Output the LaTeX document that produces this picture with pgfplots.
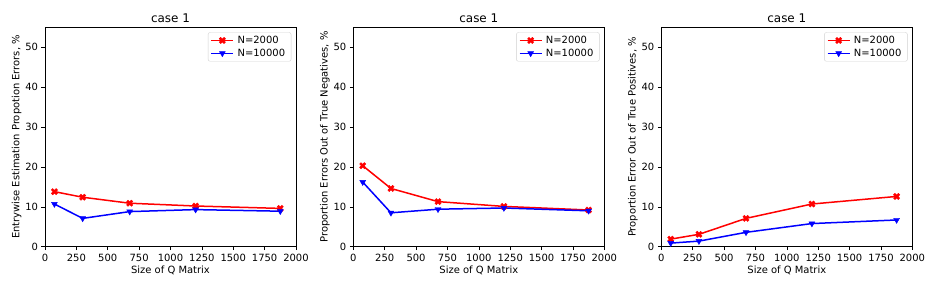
\documentclass[border=0pt]{standalone}
\usepackage{pgfplots}
\pgfplotsset{compat=1.18}
\usepackage{fontspec}
\setmainfont{DejaVu Sans}

% filled "X" marker like matplotlib's
\pgfdeclareplotmark{Xf}{%
  \pgftransformrotate{45}%
  \pgfpathmoveto{\pgfpoint{0.3\pgfplotmarksize}{0.3\pgfplotmarksize}}%
  \pgfpathlineto{\pgfpoint{0.3\pgfplotmarksize}{\pgfplotmarksize}}%
  \pgfpathlineto{\pgfpoint{-0.3\pgfplotmarksize}{\pgfplotmarksize}}%
  \pgfpathlineto{\pgfpoint{-0.3\pgfplotmarksize}{0.3\pgfplotmarksize}}%
  \pgfpathlineto{\pgfpoint{-\pgfplotmarksize}{0.3\pgfplotmarksize}}%
  \pgfpathlineto{\pgfpoint{-\pgfplotmarksize}{-0.3\pgfplotmarksize}}%
  \pgfpathlineto{\pgfpoint{-0.3\pgfplotmarksize}{-0.3\pgfplotmarksize}}%
  \pgfpathlineto{\pgfpoint{-0.3\pgfplotmarksize}{-\pgfplotmarksize}}%
  \pgfpathlineto{\pgfpoint{0.3\pgfplotmarksize}{-\pgfplotmarksize}}%
  \pgfpathlineto{\pgfpoint{0.3\pgfplotmarksize}{-0.3\pgfplotmarksize}}%
  \pgfpathlineto{\pgfpoint{\pgfplotmarksize}{-0.3\pgfplotmarksize}}%
  \pgfpathlineto{\pgfpoint{\pgfplotmarksize}{0.3\pgfplotmarksize}}%
  \pgfpathclose
  \pgfusepathqfillstroke
}

\pgfplotsset{
  panel/.style={
    scale only axis, width=251bp, height=219.4bp,
    anchor=south west,
    xmin=0, xmax=2000, ymin=0, ymax=55,
    xtick={0,250,...,2000}, ytick={0,10,...,50},
    tick align=outside, xtick pos=bottom, ytick pos=left,
    major tick length=3.5bp,
    tick style={black, line width=0.6pt},
    axis line style={line width=0.6pt},
    /pgf/number format/assume math mode=true,
    /pgf/number format/set thousands separator={},
    ticklabel style={font=\fontsize{10}{12}\selectfont},
    label style={font=\fontsize{10}{12}\selectfont},
    title style={font=\fontsize{12}{14}\selectfont, yshift=-5bp},
    title={case 1},
    xlabel={Size of Q Matrix},
    xlabel style={yshift=2bp},
    ylabel style={yshift=-3bp},
    legend style={at={(1,1)}, anchor=north east, xshift=-4.7bp, yshift=-5bp,
      draw=black!18, rounded corners=2pt, font=\fontsize{10}{12}\selectfont,
      cells={anchor=west}, inner xsep=2.5bp, inner ysep=1.5bp, row sep=0bp,
      nodes={inner xsep=3.5bp, inner ysep=2bp}},
    legend image code/.code={
      \draw[mark repeat=2, mark phase=2] plot coordinates {(-1bp,0bp) (10bp,0bp) (21bp,0bp)};
    },
  },
  s2000/.style={red, line width=1.5bp, mark=Xf, mark size=3.4bp, mark options={solid, line width=0.4pt}},
  s10000/.style={blue, line width=1.5bp, mark=triangle*, mark size=3.4bp, mark options={solid, rotate=180, line width=0.4pt}},
}

\begin{document}
\begin{tikzpicture}
\useasboundingbox (0,0) rectangle (936bp,288bp);

\begin{axis}[panel, at={(45bp,41.3bp)}, ylabel={Entrywise Estimation Propotion Errors, \%}]
\addplot[s2000] coordinates {(75,13.8) (300,12.4) (675,10.9) (1200,10.2) (1875,9.6)};
\addlegendentry{N=2000}
\addplot[s10000] coordinates {(75,10.7) (300,7.1) (675,8.8) (1200,9.3) (1875,8.9)};
\addlegendentry{N=10000}
\end{axis}

\begin{axis}[panel, at={(353.3bp,41.3bp)}, ylabel={Proportion Errors Out of True Negatives, \%}]
\addplot[s2000] coordinates {(75,20.3) (300,14.6) (675,11.3) (1200,10.1) (1875,9.2)};
\addlegendentry{N=2000}
\addplot[s10000] coordinates {(75,16.2) (300,8.5) (675,9.4) (1200,9.7) (1875,9.0)};
\addlegendentry{N=10000}
\end{axis}

\begin{axis}[panel, at={(661.3bp,41.3bp)}, ylabel={Proportion Error Out of True Positives, \%}]
\addplot[s2000] coordinates {(75,1.9) (300,3.1) (675,7.1) (1200,10.7) (1875,12.6)};
\addlegendentry{N=2000}
\addplot[s10000] coordinates {(75,0.9) (300,1.4) (675,3.6) (1200,5.8) (1875,6.7)};
\addlegendentry{N=10000}
\end{axis}
\end{tikzpicture}
\end{document}
